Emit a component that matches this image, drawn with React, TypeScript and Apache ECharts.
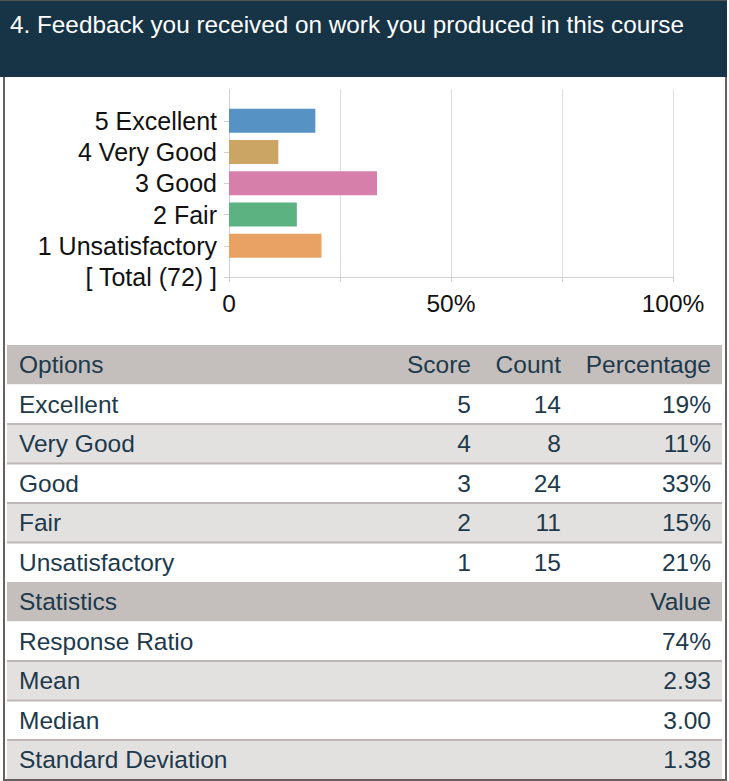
import React, { useEffect, useRef } from "react";
import * as echarts from "echarts";

const TITLE = "4. Feedback you received on work you produced in this course";
const CHART_CATEGORIES = ["[ Total (72) ]", "1 Unsatisfactory", "2 Fair", "3 Good", "4 Very Good", "5 Excellent", ""];
const TOTAL = 72;
const OPTIONS = ["Excellent", "Very Good", "Good", "Fair", "Unsatisfactory"];
const SCORES = [5, 4, 3, 2, 1];
const COUNTS = [14, 8, 24, 11, 15];
const PERCENT_LABELS = ["19%", "11%", "33%", "15%", "21%"];
const BAR_COLORS = ["#5692c4", "#cba564", "#d77fab", "#5cb281", "#e9a264"];
const X_TICK_LABELS: Record<number, string> = { 0: "0", 50: "50%", 100: "100%" };
const STAT_NAMES = ["Response Ratio", "Mean", "Median", "Standard Deviation"];
const STAT_VALUES = ["74%", "2.93", "3.00", "1.38"];

const FONT = "'Liberation Sans', Arial, Helvetica, sans-serif";
const TEXT_NAVY = "#1d3a4c";
const HEADER_BG = "#c4bebd";
const ALT_BG = "#e3e1e0";
const SEP = "#bdb8b7";
const BORDER = "#6b6060";

export default function App() {
  const ref = useRef<HTMLDivElement>(null);
  useEffect(() => {
    if (!ref.current) return;
    const chart = echarts.init(ref.current, null, { renderer: "svg" });

    // bar data: bottom to top, matching CHART_CATEGORIES
    const barData: any[] = [null];
    for (let i = OPTIONS.length - 1; i >= 0; i--) {
      barData.push({ value: (COUNTS[i] / TOTAL) * 100, itemStyle: { color: BAR_COLORS[i] } });
    }
    barData.push(null);

    const graphics: any[] = [];
    // title band
    graphics.push({ type: "rect", shape: { x: 0, y: 0, width: 727, height: 77 }, style: { fill: "#163446" }, z: 10 });
    graphics.push({
      type: "text", x: 10, y: 24, z: 11,
      style: { text: TITLE, fill: "#ffffff", font: `24.3px ${FONT}`, textVerticalAlign: "middle", textAlign: "left" },
    });

    // table
    const tableX = 7;
    const tableW = 715;
    const rowH = 39.5;
    let y = 345;
    const rows: { cells: { text: string; x: number; align: string }[]; bg: string; header: boolean }[] = [];
    rows.push({
      header: true, bg: HEADER_BG,
      cells: [
        { text: "Options", x: 19, align: "left" },
        { text: "Score", x: 471, align: "right" },
        { text: "Count", x: 561, align: "right" },
        { text: "Percentage", x: 711, align: "right" },
      ],
    });
    OPTIONS.forEach((o, i) => {
      rows.push({
        header: false, bg: i % 2 === 0 ? "#ffffff" : ALT_BG,
        cells: [
          { text: o, x: 19, align: "left" },
          { text: String(SCORES[i]), x: 471, align: "right" },
          { text: String(COUNTS[i]), x: 561, align: "right" },
          { text: PERCENT_LABELS[i], x: 711, align: "right" },
        ],
      });
    });
    rows.push({
      header: true, bg: HEADER_BG,
      cells: [
        { text: "Statistics", x: 19, align: "left" },
        { text: "Value", x: 711, align: "right" },
      ],
    });
    STAT_NAMES.forEach((n, i) => {
      rows.push({
        header: false, bg: i % 2 === 0 ? "#ffffff" : ALT_BG,
        cells: [
          { text: n, x: 19, align: "left" },
          { text: STAT_VALUES[i], x: 711, align: "right" },
        ],
      });
    });
    rows.forEach((r, idx) => {
      graphics.push({ type: "rect", shape: { x: tableX, y, width: tableW, height: rowH }, style: { fill: r.bg }, z: 1 });
      const next = rows[idx + 1];
      if (!r.header && next && !next.header) {
        graphics.push({ type: "rect", shape: { x: tableX, y: y + rowH - 1, width: tableW, height: 2 }, style: { fill: SEP }, z: 2 });
      }
      r.cells.forEach((c) => {
        graphics.push({
          type: "text", x: c.x, y: y + rowH / 2, z: 3,
          style: { text: c.text, fill: TEXT_NAVY, font: `24.5px ${FONT}`, textAlign: c.align, textVerticalAlign: "middle" },
        });
      });
      y += rowH;
    });

    // outer border
    graphics.push({ type: "rect", shape: { x: 3, y: 77, width: 2, height: 704 }, style: { fill: BORDER }, z: 12 });
    graphics.push({ type: "rect", shape: { x: 725, y: 77, width: 2, height: 704 }, style: { fill: BORDER }, z: 12 });
    graphics.push({ type: "rect", shape: { x: 3, y: 779, width: 724, height: 2 }, style: { fill: BORDER }, z: 12 });
    graphics.push({ type: "rect", shape: { x: 0, y: 0, width: 727, height: 1 }, style: { fill: "#555555" }, z: 12 });

    chart.setOption({
      animation: false,
      backgroundColor: "#ffffff",
      grid: { left: 229, right: 56, top: 89.5, bottom: 504, containLabel: false },
      xAxis: {
        type: "value",
        min: 0,
        max: 100,
        interval: 25,
        axisLine: { show: true, lineStyle: { color: "#d0d0d0", width: 1 } },
        axisTick: { show: true, length: 5, lineStyle: { color: "#d0d0d0" } },
        splitLine: { show: true, lineStyle: { color: "#dcdcdc", width: 1 } },
        axisLabel: {
          fontSize: 24.5,
          fontFamily: FONT,
          color: "#111111",
          margin: 14,
          formatter: (v: number) => (X_TICK_LABELS[v] !== undefined ? X_TICK_LABELS[v] : ""),
        },
      },
      yAxis: {
        type: "category",
        data: CHART_CATEGORIES,
        boundaryGap: false,
        axisLine: { show: true, lineStyle: { color: "#d0d0d0", width: 1 } },
        axisTick: {
          show: true,
          length: 5,
          lineStyle: { color: "#d0d0d0" },
          interval: (index: number) => index < CHART_CATEGORIES.length - 1,
        },
        splitLine: { show: false },
        axisLabel: { fontSize: 25, fontFamily: FONT, color: "#111111", margin: 12, interval: 0, padding: [0, 0, 2, 0] },
      },
      series: [
        {
          type: "bar",
          data: barData,
          barWidth: 24,
          silent: true,
        },
      ],
      graphic: { elements: graphics },
    });
    return () => chart.dispose();
  }, []);
  return <div ref={ref} style={{ position: "absolute", left: 0, top: 0, width: 729, height: 781 }} />;
}
